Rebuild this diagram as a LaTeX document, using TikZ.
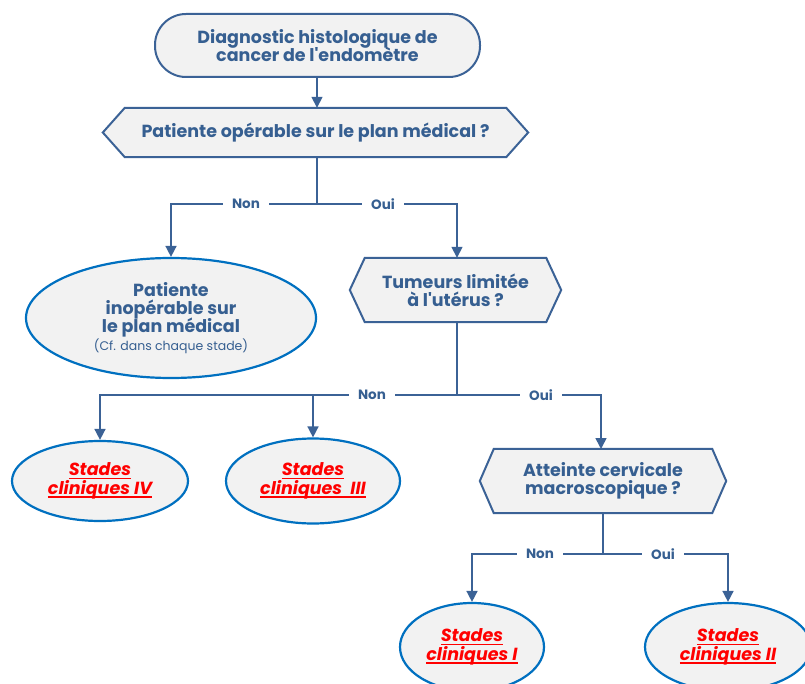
\documentclass[tikz,border=0pt]{standalone}
\usepackage{fontspec}
\setmainfont{Poppins}[Ligatures=TeXOff]
\usetikzlibrary{shapes.geometric,arrows.meta,calc}
\definecolor{txtblue}{HTML}{365F91}
\definecolor{lineblue}{HTML}{3B6296}
\definecolor{ovalblue}{HTML}{0070C0}
\definecolor{boxfill}{HTML}{F2F2F2}
\definecolor{stagered}{HTML}{FF0000}
% underline drawn just below the baseline
\newcommand{\stageline}[1]{\setbox0=\hbox{#1}\rlap{\vrule height -1.8pt depth 3.1pt width \wd0}\box0}
% keep a constant baseline distance even where lines come close
\newcommand{\tightlines}{\lineskiplimit -20pt\relax}
\tikzset{
  base/.style={inner sep=0pt, align=center, text=txtblue,
    font=\fontsize{17.5}{18}\selectfont\bfseries\tightlines},
  startbox/.style={base, draw=lineblue, fill=boxfill, line width=2pt,
    rectangle, rounded corners=31pt, minimum width=325, minimum height=63},
  qbox/.style={base},
  hexline/.style={draw=lineblue, fill=boxfill, line width=2pt, line join=miter},
  oval/.style={base, ellipse, draw=ovalblue, fill=boxfill, line width=2.2pt},
  stage/.style={oval, text=stagered,
    font=\fontsize{17.5}{18.5}\selectfont\bfseries\itshape\tightlines},
  link/.style={draw=lineblue, line width=1.6pt},
  arrow/.style={link, -{Triangle[length=11pt, width=11pt]}},
  branch/.style={fill=white, inner xsep=9pt, inner ysep=2pt, text=txtblue,
    font=\fontsize{13.5}{14}\selectfont\bfseries}
}
\newcommand{\hexagon}[2]{% node name, tip depth
  \path[hexline] (#1.west) -- ($(#1.north west)+(#2,0)$) -- ($(#1.north east)+(-#2,0)$)
    -- (#1.east) -- ($(#1.south east)+(-#2,0)$) -- ($(#1.south west)+(#2,0)$) -- cycle;}
\begin{document}
\begin{tikzpicture}[x=1pt, y=-1pt]
\useasboundingbox (0,0) rectangle (805,684);
\clip (0,0) rectangle (805,684);

% start of the decision tree
\node[startbox] (start) at (317.5,45.5) {Diagnostic histologique de\\cancer de l'endomètre};

% question nodes (hexagons drawn around rectangular anchors)
\node[qbox, minimum width=425, minimum height=49] (q1) at (315.5,132.5) {};
\hexagon{q1}{22}
\node[qbox] at (q1) {Patiente opérable sur le plan médical ?};

\node[qbox, minimum width=211, minimum height=64] (q2) at (455.5,290) {};
\hexagon{q2}{15}
\node[qbox] at (q2) {Tumeurs limitée\\à l'utérus ?};

\node[qbox, minimum width=246, minimum height=64] (q3) at (603,481) {};
\hexagon{q3}{14}
\node[qbox] at (q3) {Atteinte cervicale\\macroscopique ?};

% outcome nodes
\node[oval, minimum width=290, minimum height=120] (inop) at (171,318)
  {Patiente\\inopérable sur\\le plan médical\\{\fontsize{12.5}{13}\selectfont\mdseries (Cf. dans chaque stade)}};
\node[stage, minimum width=176, minimum height=80] (s4) at (100,481) {\stageline{Stades}\\\stageline{cliniques IV}};
\node[stage, minimum width=174, minimum height=85] (s3) at (313,481) {\stageline{Stades}\\\stageline{cliniques\ \ III}};
\node[stage, minimum width=144, minimum height=88] (s1) at (472,647) {\stageline{Stades}\\\stageline{cliniques I}};
\node[stage, minimum width=166, minimum height=88] (s2) at (728,647) {\stageline{Stades}\\\stageline{cliniques II}};

% junction points of the branches
\coordinate (j1) at (317,204);
\coordinate (j2) at (457,395);
\coordinate (j3) at (603,554);

% connectors
\draw[arrow] (start.south -| 317,0) -- (q1.north -| 317,0);
\draw[link] (q1.south -| j1) -- (j1);
\draw[arrow] (j1) -| (inop.north);
\draw[arrow] (j1) -| (q2.north -| j2);
\draw[link] (q2.south -| j2) -- (j2);
\draw[arrow] (j2) -| (s4.north);
\draw[arrow] (j2) -| (s3.north);
\draw[arrow] (j2) -| (601,449);
\draw[link] (q3.south) -- (j3);
\draw[arrow] (j3) -| (s1.north);
\draw[arrow] (j3) -| (s2.north);

% branch labels
\node[branch] (n1) at (246,204) {Non};
\node[branch] (o1) at (383,204) {Oui};
\node[branch] (n2) at (372,395) {Non};
\node[branch] (o2) at (541,395) {Oui};
\node[branch] (n3) at (540,554) {Non};
\node[branch] (o3) at (663,554) {Oui};
\end{tikzpicture}
\end{document}
